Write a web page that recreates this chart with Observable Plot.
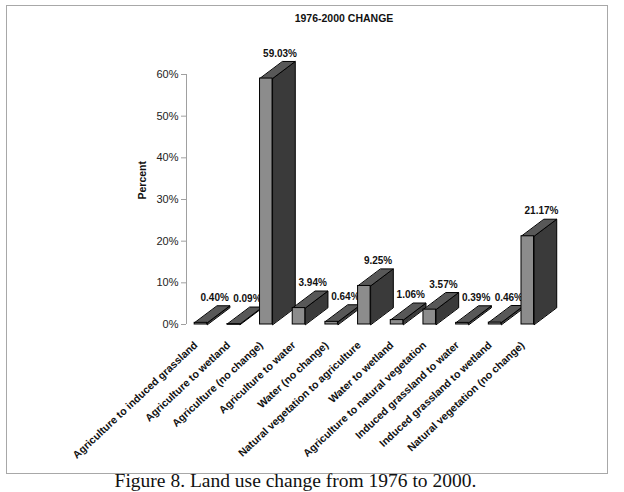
<!DOCTYPE html>
<html>
<head>
<meta charset="utf-8">
<script src="https://cdn.jsdelivr.net/npm/d3@7"></script>
<script src="https://cdn.jsdelivr.net/npm/@observablehq/plot@0.6"></script>
<style>
  html, body { margin: 0; padding: 0; background: white; }
  #page { position: relative; width: 624px; height: 492px; overflow: hidden; }
  #frame { position: absolute; left: 6px; top: 5px; width: 600px; height: 467px; border: 1px solid #a8a8a8; }
  #chart { position: absolute; left: 0; top: 0; }
  #title { position: absolute; left: 0; width: 674px; top: 6px; text-align: center;
           font: bold 10.5px "Liberation Sans", Arial, sans-serif; line-height: 12px; color: #111; }
  #caption { position: absolute; left: 0; width: 591px; top: 471px; text-align: center;
             font: 19.5px "Liberation Serif", "Times New Roman", serif; line-height: 20px; color: #111; }
</style>
</head>
<body>
<div id="page">
  <div id="frame">
    <div id="chart"></div>
    <div id="title">1976-2000 CHANGE</div>
  </div>
  <div id="caption">Figure 8. Land use change from 1976 to 2000.</div>
</div>
<script>
// ---- data ----
const categories = [
  "Agriculture to induced grassland",
  "Agriculture to wetland",
  "Agriculture (no change)",
  "Agriculture to water",
  "Water (no change)",
  "Natural vegetation to agriculture",
  "Water to wetland",
  "Agriculture to natural vegetation",
  "Induced grassland to water",
  "Induced grassland to wetland",
  "Natural vegetation (no change)"
];
const values = [0.40, 0.09, 59.03, 3.94, 0.64, 9.25, 1.06, 3.57, 0.39, 0.46, 21.17];
const yTicks = [0, 10, 20, 30, 40, 50, 60];

// ---- 3D bar geometry (in scale units) ----
const W = 0.383;   // front face width
const DX = 0.695;  // depth offset along x
const DY = 4.1;    // depth offset along y

const bars = categories.map((c, i) => ({c, i, v: values[i]}));
const sides = bars.flatMap(d => [
  {i: d.i, x: d.i + W, y: 0},
  {i: d.i, x: d.i + W, y: d.v},
  {i: d.i, x: d.i + W + DX, y: d.v + DY},
  {i: d.i, x: d.i + W + DX, y: DY}
]);
const tops = bars.flatMap(d => [
  {i: d.i, x: d.i, y: d.v},
  {i: d.i, x: d.i + W, y: d.v},
  {i: d.i, x: d.i + W + DX, y: d.v + DY},
  {i: d.i, x: d.i + DX, y: d.v + DY}
]);

const chart = Plot.plot({
  width: 600,
  height: 467,
  marginLeft: 179,
  marginRight: 86,
  marginTop: 68,
  marginBottom: 149,
  style: {fontFamily: "'Liberation Sans', Arial, sans-serif", fontSize: "10px", background: "white", overflow: "visible"},
  x: {domain: [-0.25, 10]},
  y: {domain: [0, 60]},
  marks: [
    Plot.ruleX([-0.25], {y1: 0, y2: 60, stroke: "#a0a0a0", strokeWidth: 1}),
    Plot.axisY({ticks: yTicks, tickFormat: d => d + "%", tickSize: 5, tickPadding: 3,
                stroke: "#a0a0a0", fill: "#222", fontSize: 11, label: null}),
    Plot.text(["Percent"], {frameAnchor: "left", y: 30, dx: -44, rotate: -90,
                fontWeight: "bold", fontSize: 10.5, fill: "#111"}),
    Plot.axisX({ticks: bars.map(d => d.i + W / 2), tickFormat: t => categories[Math.round(t - W / 2)],
                tickRotate: -43, tickSize: 0, tickPadding: 19, dx: -5, fontWeight: "bold", fontSize: 10.6,
                fill: "#111", label: null}),
    Plot.text(bars, {x: d => d.i + W / 2 + 0.42, y: d => d.v + DY, text: d => d.v.toFixed(2) + "%",
                dy: -8, fontWeight: "bold", fontSize: 10, fill: "#111"}),
    Plot.line(sides, {x: "x", y: "y", z: "i", curve: "linear-closed", fill: "#3a3a3a",
                stroke: "#000", strokeWidth: 1}),
    Plot.line(tops, {x: "x", y: "y", z: "i", curve: "linear-closed", fill: "#585858",
                stroke: "#000", strokeWidth: 1}),
    Plot.rect(bars, {x1: d => d.i, x2: d => d.i + W, y1: 0, y2: "v", fill: "#8c8c8c",
                stroke: "#000", strokeWidth: 1})
  ]
});
document.getElementById("chart").appendChild(chart);
</script>
</body>
</html>
